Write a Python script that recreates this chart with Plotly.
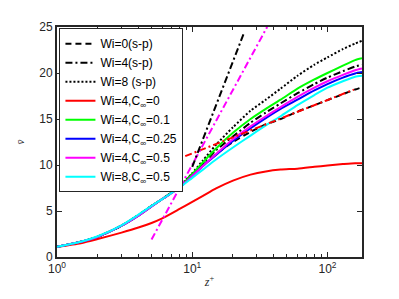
import plotly.graph_objects as go

# ---- data ----
z = [1, 1.5, 2, 3, 4, 5, 6, 8, 10, 12, 15, 20, 27, 35, 45, 60, 80, 100, 130, 160, 180]

wi0_sp = [1.1, 1.65, 2.2, 3.4, 4.55, 5.55, 6.3, 7.6, 9.0, 10.0, 11.2, 12.5, 13.6, 14.4, 15.0, 15.8, 16.5, 17.05, 17.7, 18.2, 18.45]
wi4_sp = [1.1, 1.65, 2.2, 3.4, 4.55, 5.55, 6.3, 7.6, 9.0, 10.2, 11.6, 13.1, 14.6, 15.7, 16.7, 17.8, 18.8, 19.5, 20.2, 20.7, 20.9]
wi8_sp = [1.1, 1.65, 2.2, 3.4, 4.55, 5.55, 6.3, 7.65, 9.1, 10.5, 12.2, 14.1, 15.9, 17.1, 18.3, 19.7, 20.9, 21.7, 22.6, 23.2, 23.5]
wi4_c0 = [1.1, 1.5, 1.95, 2.65, 3.2, 3.7, 4.2, 5.2, 6.0, 6.65, 7.45, 8.3, 8.95, 9.3, 9.5, 9.6, 9.8, 9.95, 10.1, 10.2, 10.2]
wi4_c01 = [1.1, 1.65, 2.2, 3.4, 4.5, 5.5, 6.3, 7.6, 9.0, 10.3, 11.8, 13.5, 15.0, 16.1, 17.1, 18.3, 19.3, 20.0, 20.8, 21.4, 21.6]
wi4_c025 = [1.1, 1.65, 2.2, 3.4, 4.5, 5.5, 6.3, 7.5, 8.8, 9.9, 11.1, 12.6, 14.0, 15.1, 16.1, 17.1, 18.1, 18.8, 19.5, 19.95, 20.1]
wi4_c05 = [1.1, 1.65, 2.2, 3.4, 4.5, 5.5, 6.3, 7.5, 8.8, 9.9, 11.2, 12.8, 14.2, 15.3, 16.3, 17.4, 18.4, 19.1, 19.8, 20.3, 20.5]
wi8_c05 = [1.1, 1.65, 2.25, 3.45, 4.6, 5.55, 6.3, 7.5, 8.6, 9.5, 10.6, 11.9, 13.2, 14.3, 15.3, 16.5, 17.6, 18.4, 19.1, 19.6, 19.7]

# reference lines (no legend entries)
loglaw_z = [7, 157]
loglaw_v = [10.36, 18.2]
mdr_z = [5, 35.8]
mdr_v = [1.9, 25]
steep_z = [10, 24.2]
steep_v = [9.8, 24.4]

x_tickvals = [1, 10, 100]
x_ticktext = ["10<sup>0</sup>", "10<sup>1</sup>", "10<sup>2</sup>"]
x_minor = [2, 3, 4, 5, 6, 7, 8, 9, 20, 30, 40, 50, 60, 70, 80, 90]
y_tickvals = [0, 5, 10, 15, 20, 25]

series = [
    ("Wi=0(s-p)", wi0_sp, "black", "6px,4px"),
    ("Wi=4(s-p)", wi4_sp, "black", "7px,3px,2px,3px"),
    ("Wi=8 (s-p)", wi8_sp, "black", "2px,2px"),
    ("Wi=4,C<sub>∞</sub>=0", wi4_c0, "#ff0000", "solid"),
    ("Wi=4,C<sub>∞</sub>=0.1", wi4_c01, "#00ff00", "solid"),
    ("Wi=4,C<sub>∞</sub>=0.25", wi4_c025, "#0000ff", "solid"),
    ("Wi=4,C<sub>∞</sub>=0.5", wi4_c05, "#ff00ff", "solid"),
    ("Wi=8,C<sub>∞</sub>=0.5", wi8_c05, "#00ffff", "solid"),
]

fig = go.Figure()
for name, vals, col, dash in series:
    fig.add_trace(go.Scatter(x=z, y=vals, mode="lines", name=name,
                             line=dict(color=col, width=2, dash=dash, shape="spline", smoothing=0.6)))

fig.add_trace(go.Scatter(x=loglaw_z, y=loglaw_v, mode="lines", showlegend=False,
                         line=dict(color="#ff0000", width=2, dash="7px,3px,2px,3px")))
fig.add_trace(go.Scatter(x=mdr_z, y=mdr_v, mode="lines", showlegend=False,
                         line=dict(color="#ff00ff", width=2, dash="7px,3px,2px,3px")))
fig.add_trace(go.Scatter(x=steep_z, y=steep_v, mode="lines", showlegend=False,
                         line=dict(color="black", width=2, dash="7px,3px,2px,3px")))

axis_common = dict(showline=True, linecolor="#262626", linewidth=1.8, mirror="ticks",
                   ticks="inside", tickcolor="#262626", showgrid=False, zeroline=False,
                   tickfont=dict(family="Liberation Sans, Arial", size=12, color="#262626"))

fig.update_xaxes(type="log", range=[0, 2.2553], tickvals=x_tickvals, ticktext=x_ticktext,
                 ticklen=5, tickwidth=1,
                 minor=dict(tickvals=x_minor, ticks="inside", ticklen=3, tickcolor="#262626", showgrid=False),
                 title=dict(text="<i>z</i><sup>+</sup>", font=dict(family="Liberation Serif", size=12, color="#262626"),
                            standoff=2),
                 **axis_common)
fig.update_yaxes(range=[0, 25], tickvals=y_tickvals, ticklen=5, tickwidth=1,
                 title=dict(text="<i>v̄</i>", font=dict(family="Liberation Serif", size=11, color="#262626"),
                            standoff=12),
                 **axis_common)

# page body has an 8px margin: figure is 8px smaller, left/top margins reduced by 8px
fig.update_layout(
    width=391, height=291,
    margin=dict(l=44, r=37, t=14, b=42),
    paper_bgcolor="white", plot_bgcolor="white",
    showlegend=True,
    legend=dict(x=0.008, y=0.995, xanchor="left", yanchor="top",
                bgcolor="white", bordercolor="#262626", borderwidth=1,
                font=dict(family="Liberation Sans, Arial", size=12, color="black"),
                tracegroupgap=0, itemwidth=30),
)

fig.write_html("out.html")
